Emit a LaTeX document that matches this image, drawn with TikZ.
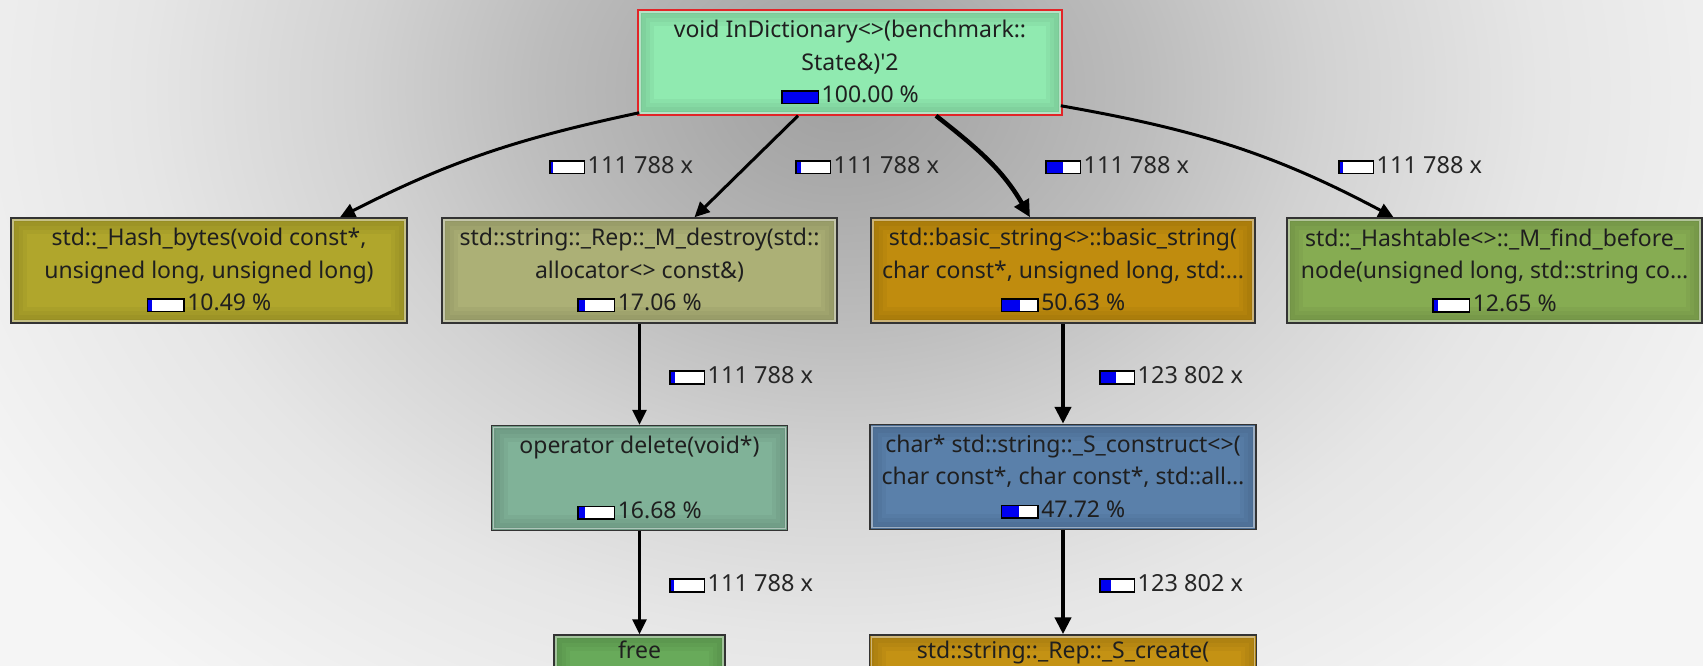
\documentclass[tikz,border=0pt]{standalone}
\usepackage{fontspec}
\setmainfont{Noto Sans}[Ligatures=TeXOff]
\usetikzlibrary{arrows.meta}
\definecolor{bgc}{RGB}{245,245,245}
\definecolor{cA}{RGB}{160,160,160}
\definecolor{cB}{RGB}{170,170,170}
\definecolor{cC}{RGB}{188,188,188}
\definecolor{cD}{RGB}{210,210,210}
\definecolor{cE}{RGB}{230,230,230}
\definecolor{topred}{RGB}{226,36,40}
\definecolor{ctop}{RGB}{144,234,176}
\definecolor{chash}{RGB}{176,166,44}
\definecolor{cdestroy}{RGB}{172,176,118}
\definecolor{cbasic}{RGB}{192,140,14}
\definecolor{chasht}{RGB}{134,172,82}
\definecolor{cdelete}{RGB}{128,178,152}
\definecolor{cconstruct}{RGB}{90,128,170}
\definecolor{cfree}{RGB}{104,170,90}
\definecolor{ccreate}{RGB}{196,146,20}
\definecolor{barblue}{RGB}{0,0,240}
\pgfdeclareradialshading{bgglow}{\pgfpoint{0bp}{0bp}}{color(0bp)=(cA); color(3bp)=(cB); color(7.5bp)=(cC); color(12bp)=(cD); color(17.5bp)=(cE); color(25bp)=(bgc); color(50bp)=(bgc)}
\newcommand\pbar[2][35pt]{\begingroup\setlength\fboxsep{0pt}\setlength\fboxrule{1.5pt}\raisebox{0pt}{\fcolorbox{black}{white}{\makebox[#1][l]{\textcolor{barblue}{\rule{#2\dimexpr#1\relax}{11.3pt}}}}}\endgroup\hspace{2.5pt}}
\tikzset{
  fn/.style={draw=black!80, line width=1.5pt, fill=#1, minimum height=105pt, inner sep=0pt,
    align=center, text=black!88, font=\fontsize{23}{32.5}\selectfont,
    path picture={
      \foreach \w in {8,16,24,32}{
        \draw[black, opacity=0.035, line width=\w pt] (path picture bounding box.north west) rectangle (path picture bounding box.south east);}
      \draw[white, opacity=0.45, line width=1.5pt] ([shift={(2.2pt,-2.2pt)}]path picture bounding box.north west) rectangle ([shift={(-2.2pt,2.2pt)}]path picture bounding box.south east);
    }},
  lab/.style={anchor=base west, inner sep=0pt, text=black!85, font=\fontsize{23.5}{26}\selectfont},
  edge/.style={line width=3pt, black, -{Triangle[length=15pt,width=14pt]}},
  thickedge/.style={line width=4.5pt, black, -{Triangle[length=17pt,width=16pt]}}
}
\begin{document}
\begin{tikzpicture}[x=1pt,y=1pt]
\useasboundingbox (0,0) rectangle (1703,-666);
\fill[bgc] (0,0) rectangle (1703,-666);
\begin{scope}
\clip (0,0) rectangle (1703,-666);
\shade[shading=bgglow] (840,-90) ellipse [x radius=1000, y radius=780];
\end{scope}

\node[fn=ctop, draw=topred, minimum width=424pt] (top) at (850,-62.5)
  {void InDictionary<>(benchmark::\\State\&)'2\\\pbar{1}100.00 \%};
\node[fn=chash, minimum width=396pt] (hash) at (209,-270.5)
  {std::\_Hash\_bytes(void const*,\\unsigned long, unsigned long)\\\pbar{0.1}10.49 \%};
\node[fn=cdestroy, minimum width=395pt] (destroy) at (639.5,-270.5)
  {std::string::\_Rep::\_M\_destroy(std::\\allocator<> const\&)\\\pbar{0.17}17.06 \%};
\node[fn=cbasic, minimum width=384pt] (basic) at (1063,-270.5)
  {std::basic\_string<>::basic\_string(\\char const*, unsigned long, std:…\\\pbar{0.506}50.63 \%};
\node[fn=chasht, minimum width=415pt] (hasht) at (1494.5,-270.5)
  {std::\_Hashtable<>::\_M\_find\_before\_\\node(unsigned long, std::string co…\\\pbar{0.1265}12.65 \%};
\node[fn=cdelete, minimum width=296pt] (delete) at (639.5,-478)
  {operator delete(void*)\\\strut\\\pbar{0.167}16.68 \%};
\node[fn=cconstruct, minimum width=386pt] (construct) at (1063,-477)
  {char* std::string::\_S\_construct<>(\\char const*, char const*, std::all…\\\pbar{0.477}47.72 \%};
\node[fn=cfree, minimum width=171pt] (free) at (639.5,-687.5)
  {free\\\strut\\\strut};
\node[fn=ccreate, minimum width=387pt] (create) at (1063,-687.5)
  {std::string::\_Rep::\_S\_create(\\\strut\\\strut};

\draw[edge] ([shift={(2,3)}]top.south west) to[out=192,in=27] ([xshift=131]hash.north);
\draw[edge] ([xshift=-52]top.south) -- ([xshift=55]destroy.north);
\draw[thickedge] ([xshift=86]top.south) to[out=-38,in=120] ([xshift=-33]basic.north);
\draw[edge] ([shift={(-2,10)}]top.south east) to[out=-10,in=152] ([xshift=-101]hasht.north);
\draw[edge] (destroy.south) -- (delete.north);
\draw[thickedge] (basic.south) -- (construct.north);
\draw[edge] (delete.south) -- (free.north);
\draw[thickedge] (construct.south) -- (create.north);

\node[lab] (l1) at (549,-173) {\pbar[33pt]{0.08}111 788 x};
\node[lab] (l2) at (795,-173) {\pbar[33pt]{0.12}111 788 x};
\node[lab] (l3) at (1045,-173) {\pbar[33pt]{0.5}111 788 x};
\node[lab] (l4) at (1338,-173) {\pbar[33pt]{0.1}111 788 x};
\node[lab] (l5) at (669,-383) {\pbar[33pt]{0.12}111 788 x};
\node[lab] (l6) at (1099,-383) {\pbar[33pt]{0.45}123 802 x};
\node[lab] (l7) at (669,-591) {\pbar[33pt]{0.1}111 788 x};
\node[lab] (l8) at (1099,-591) {\pbar[33pt]{0.3}123 802 x};
\end{tikzpicture}
\end{document}
